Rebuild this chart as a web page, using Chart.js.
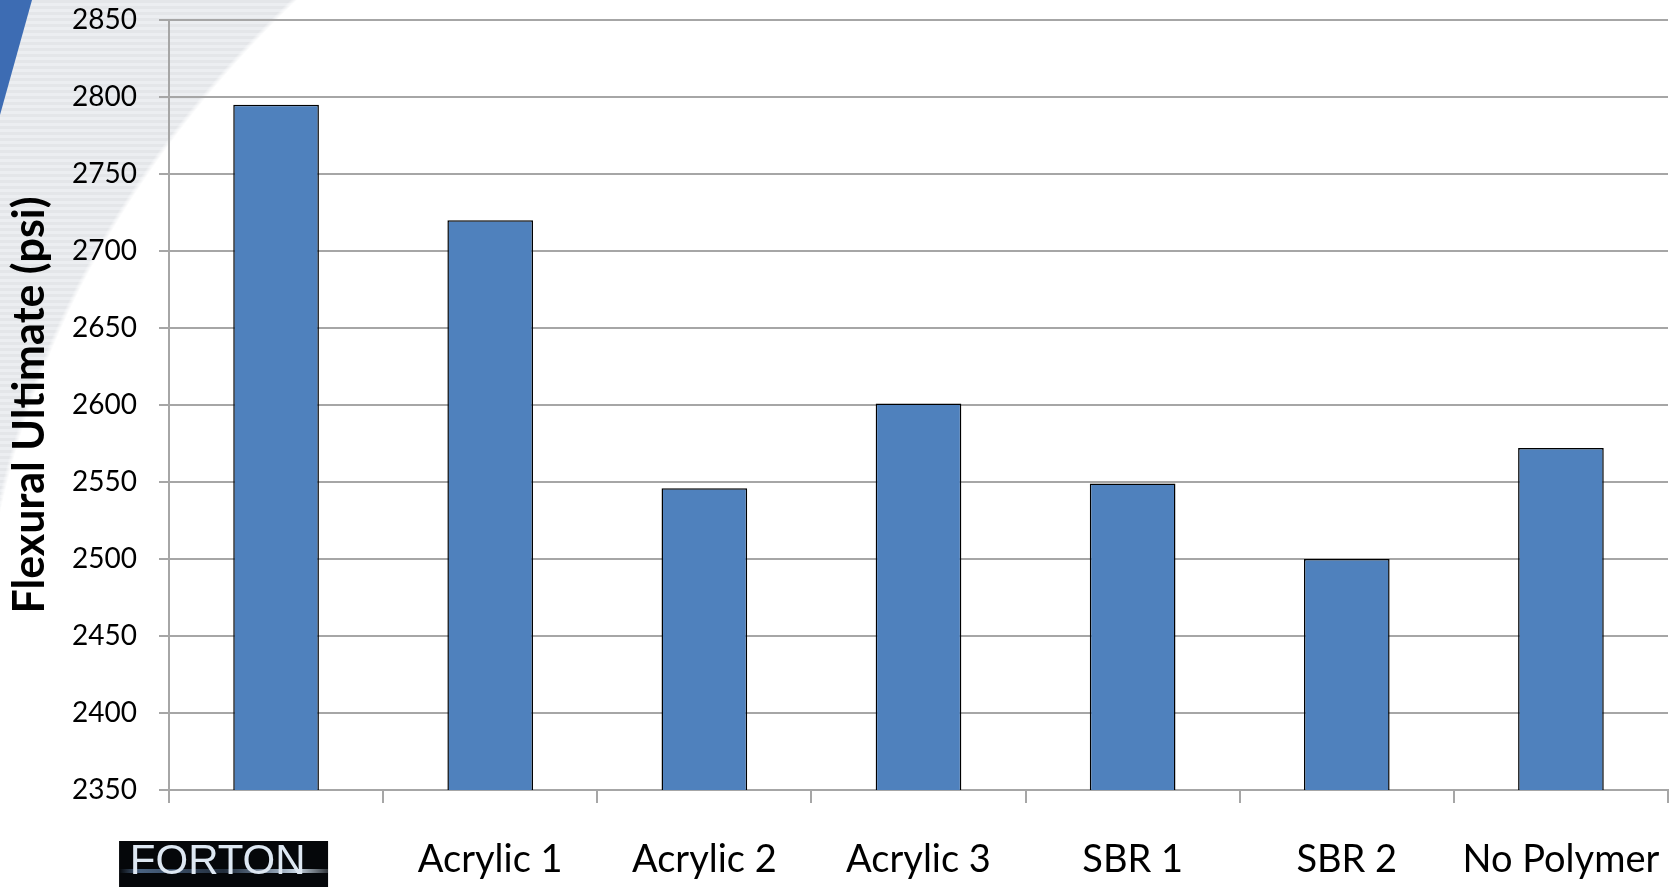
<!DOCTYPE html>
<html lang="en">
<head>
    <meta charset="UTF-8">
    <title>Flexural Ultimate</title>
    <script src="https://cdn.jsdelivr.net/npm/chart.js@4"></script>
    <style>
        html, body {
            margin: 0;
            padding: 0;
        }
        body {
            width: 1677px;
            height: 887px;
            overflow: hidden;
            position: relative;
            /* slide background: white with a grey swoosh in the top-left corner */
            background:
                radial-gradient(ellipse 1325px 1081px at 1300px 700px, #ffffff 99.6%, rgba(255,255,255,0) 100%),
                repeating-linear-gradient(180deg, #e4e6e9 0 3px, #eceef1 3px 6px);
        }
        .swoosh {
            position: absolute;
            left: 0;
            top: 0;
            width: 40px;
            height: 130px;
            background: linear-gradient(100deg, #3d6cb3 0 50%, #9ab8e0 65%, rgba(255,255,255,0) 80%);
            clip-path: polygon(0 0, 32px 0, 0 115px);
        }
        .chart-box {
            position: absolute;
            left: 0;
            top: 0;
            width: 1677px;
            height: 887px;
        }
    </style>
</head>
<body>
    <div class="swoosh"></div>
    <div class="chart-box">
        <canvas id="flexChart"></canvas>
    </div>
    <script>
        const categories = ['FORTON', 'Acrylic 1', 'Acrylic 2', 'Acrylic 3', 'SBR 1', 'SBR 2', 'No Polymer'];
        const flexural = [2795, 2720, 2546, 2601, 2549, 2500, 2572];
        const yMin = 2350;
        const yMax = 2850;
        const yStep = 50;

        const gridColor = '#a6a6a6';

        // black FORTON logo plate behind the first category label
        const logoPlate = {
            id: 'logoPlate',
            beforeDraw(chart) {
                const x = chart.scales.x;
                const ctx = chart.ctx;
                const cx = x.getPixelForTick(0);
                const left = cx - 157;
                const top = x.top + 51;
                ctx.save();
                ctx.fillStyle = '#05070a';
                ctx.fillRect(left, top, 209, 60);
                // light streak
                const g = ctx.createLinearGradient(left, 0, left + 209, 0);
                g.addColorStop(0, 'rgba(120,160,210,0.0)');
                g.addColorStop(0.1, 'rgba(120,160,210,0.6)');
                g.addColorStop(0.5, 'rgba(120,160,210,0.25)');
                g.addColorStop(0.85, 'rgba(220,235,250,0.9)');
                g.addColorStop(1, 'rgba(220,235,250,0.2)');
                ctx.fillStyle = g;
                ctx.fillRect(left, top + 28, 209, 4);
                ctx.restore();
            }
        };

        new Chart(document.getElementById('flexChart'), {
            type: 'bar',
            data: {
                labels: categories,
                datasets: [{
                    data: flexural,
                    backgroundColor: '#4f81bd',
                    borderColor: '#000000',
                    borderWidth: 1.5,
                    barPercentage: 0.4,
                    categoryPercentage: 1.0
                }]
            },
            options: {
                responsive: true,
                maintainAspectRatio: false,
                devicePixelRatio: 1,
                animation: false,
                layout: { padding: { top: 20, right: 9, left: 0, bottom: 0 } },
                plugins: {
                    legend: { display: false },
                    tooltip: { enabled: false }
                },
                scales: {
                    x: {
                        grid: {
                            offset: true,
                            drawOnChartArea: false,
                            tickLength: 13,
                            color: gridColor,
                            lineWidth: 2
                        },
                        border: { color: gridColor, width: 2 },
                        ticks: {
                            autoSkip: false,
                            maxRotation: 0,
                            padding: 34,
                            callback: function (value, index) {
                                const label = this.getLabelForValue(value);
                                return index === 0 ? label + ' '.repeat(10) : label;
                            },
                            color: (c) => c.index === 0 ? '#dde7f2' : '#000000',
                            font: (c) => c.index === 0
                                ? { family: 'Liberation Sans', size: 42 }
                                : { family: 'Lato', size: 38 }
                        },
                        afterFit: (scale) => {
                            scale.height = 97;
                            scale.paddingLeft = 0;
                            scale.paddingRight = 0;
                        }
                    },
                    y: {
                        min: yMin,
                        max: yMax,
                        grid: {
                            color: gridColor,
                            lineWidth: 2,
                            tickLength: 10
                        },
                        border: { color: gridColor, width: 2 },
                        ticks: {
                            stepSize: yStep,
                            padding: 22,
                            color: '#000000',
                            font: { family: 'Lato', size: 28 },
                            callback: (value) => String(value)
                        },
                        title: {
                            display: true,
                            text: 'Flexural Ultimate (psi)',
                            color: '#000000',
                            font: { family: 'Lato', size: 43, weight: 'bold' },
                            padding: { top: 4, bottom: 0 }
                        },
                        afterFit: (scale) => {
                            scale.width = 169;
                            scale.paddingTop = 0;
                            scale.paddingBottom = 0;
                        }
                    }
                }
            },
            plugins: [logoPlate]
        });
    </script>
</body>
</html>
